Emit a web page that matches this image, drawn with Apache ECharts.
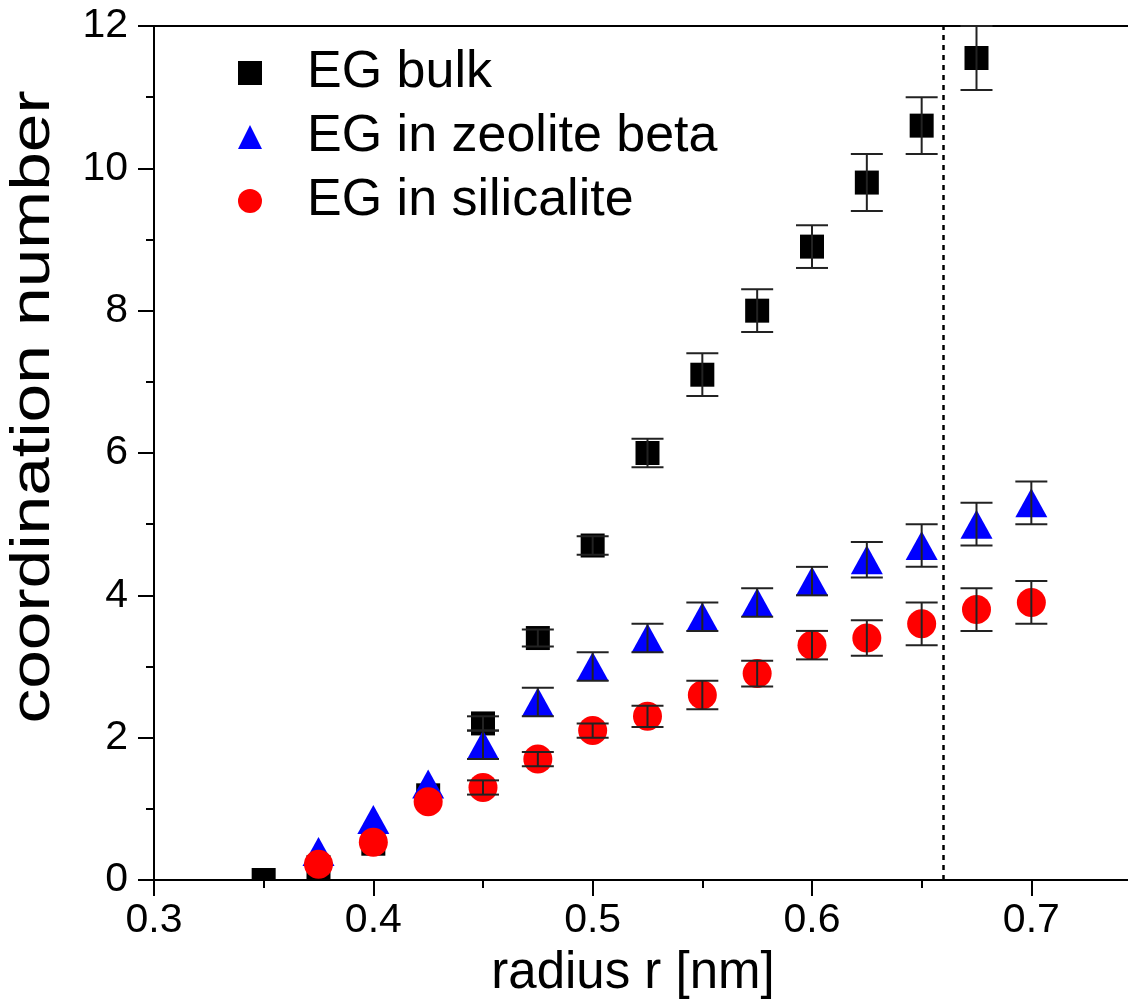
<!DOCTYPE html>
<html>
<head>
<meta charset="utf-8">
<title>Coordination number vs radius</title>
<script src="https://cdn.jsdelivr.net/npm/echarts@6/dist/echarts.min.js"></script>
<style>
  html, body { margin: 0; padding: 0; background: #ffffff; }
  #chart { width: 1128px; height: 1008px; }
</style>
</head>
<body>
<div id="chart"></div>
<script>
// radius r [nm] for each sample
const radiusBulk = [0.35, 0.375, 0.4, 0.425, 0.45, 0.475, 0.5, 0.525, 0.55, 0.575, 0.6, 0.625, 0.65, 0.675];
const radiusPore = [0.375, 0.4, 0.425, 0.45, 0.475, 0.5, 0.525, 0.55, 0.575, 0.6, 0.625, 0.65, 0.675, 0.7];

// coordination numbers and their error half-widths (0 = no bar drawn)
const bulkValues = [0.0, 0.18, 0.51, 1.19, 2.2, 3.4, 4.7, 6.0, 7.1, 8.0, 8.9, 9.8, 10.6, 11.55];
const bulkErrors = [0, 0, 0, 0, 0.1, 0.12, 0.13, 0.2, 0.3, 0.3, 0.3, 0.4, 0.4, 0.45];

const betaValues = [0.4, 0.85, 1.35, 1.9, 2.5, 3.0, 3.4, 3.7, 3.9, 4.2, 4.5, 4.7, 5.0, 5.3];
const betaErrors = [0, 0, 0, 0.2, 0.2, 0.2, 0.2, 0.2, 0.2, 0.2, 0.25, 0.3, 0.3, 0.3];

const silicaliteValues = [0.22, 0.53, 1.1, 1.3, 1.7, 2.1, 2.3, 2.6, 2.9, 3.3, 3.4, 3.6, 3.8, 3.9];
const silicaliteErrors = [0, 0, 0, 0.1, 0.1, 0.1, 0.15, 0.2, 0.18, 0.2, 0.25, 0.3, 0.3, 0.3];

const seriesNames = ['EG bulk', 'EG in zeolite beta', 'EG in silicalite'];
const xTicks = { min: 0.3, max: 0.75, interval: 0.1 };
const yTicks = { min: 0, max: 12, interval: 2 };
const cutoffRadius = 0.659;
const yTitle = 'coordination number';

const FONT = '"Liberation Sans", Arial, Helvetica, sans-serif';

function points(xs, ys) {
  return xs.map((x, i) => [x, ys[i]]);
}
function errorRanges(xs, ys, es) {
  return xs.map((x, i) => [x, ys[i] - es[i], ys[i] + es[i]]);
}

// vertical error bar with caps
function renderErrorBar(params, api) {
  const x = api.value(0);
  const lo = api.value(1), hi = api.value(2);
  if (hi <= lo) return null;
  const top = api.coord([x, hi]);
  const bot = api.coord([x, lo]);
  const half = 16;
  const style = { stroke: '#222', lineWidth: 2 };
  return {
    type: 'group',
    children: [
      { type: 'line', shape: { x1: top[0], y1: top[1], x2: bot[0], y2: bot[1] }, style },
      { type: 'line', shape: { x1: top[0] - half, y1: top[1], x2: top[0] + half, y2: top[1] }, style },
      { type: 'line', shape: { x1: bot[0] - half, y1: bot[1], x2: bot[0] + half, y2: bot[1] }, style }
    ]
  };
}

// filled square marker, clipped to the plot area by the series
function renderSquare(params, api) {
  const p = api.coord([api.value(0), api.value(1)]);
  const s = 24;
  return {
    type: 'rect',
    shape: { x: p[0] - s / 2, y: p[1] - s / 2, width: s, height: s },
    style: { fill: '#000000' }
  };
}

const chart = echarts.init(document.getElementById('chart'), null, { renderer: 'canvas' });

chart.setOption({
  animation: false,
  backgroundColor: '#ffffff',
  grid: {
    left: 154, top: 26, width: 987, bottom: 128,
    outerBoundsMode: 'none',
    containLabel: false,
    show: true, borderColor: '#000', borderWidth: 2, backgroundColor: 'transparent'
  },
  // y-axis title, set in a wide face along its length
  graphic: [{
    type: 'text',
    x: 34, y: 407,
    rotation: Math.PI / 2,
    scaleX: 1.24,
    silent: true,
    style: {
      text: yTitle,
      font: '56px ' + FONT,
      fill: '#000',
      align: 'center',
      verticalAlign: 'middle'
    }
  }],
  legend: {
    orient: 'vertical',
    left: 233, top: 38,
    itemWidth: 24, itemHeight: 24, itemGap: 4,
    selectedMode: false,
    textStyle: { fontFamily: FONT, fontSize: 52, color: '#000', lineHeight: 60, padding: [0, 0, 0, 40] },
    data: [
      { name: seriesNames[0], icon: 'rect', itemStyle: { color: '#000000' } },
      { name: seriesNames[1], icon: 'triangle', itemStyle: { color: '#0000ff' } },
      { name: seriesNames[2], icon: 'circle', itemStyle: { color: '#ff0000' } }
    ]
  },
  xAxis: {
    type: 'value',
    min: xTicks.min, max: xTicks.max, interval: xTicks.interval,
    name: 'radius r [nm]',
    nameLocation: 'middle',
    nameGap: 68,
    nameTextStyle: { fontFamily: FONT, fontSize: 51, color: '#000', padding: [0, 29, 0, 0] },
    axisLine: { show: true, onZero: false, lineStyle: { color: '#000', width: 2 } },
    axisTick: { show: true, inside: false, length: 16, lineStyle: { color: '#000', width: 2 } },
    minorTick: { show: true, splitNumber: 2, length: 8, lineStyle: { color: '#000', width: 2 } },
    axisLabel: {
      fontFamily: FONT, fontSize: 41, color: '#000', margin: 20,
      showMaxLabel: false,
      formatter: v => v.toFixed(1)
    },
    splitLine: { show: false }
  },
  yAxis: {
    type: 'value',
    min: yTicks.min, max: yTicks.max, interval: yTicks.interval,
    axisLine: { show: true, onZero: false, lineStyle: { color: '#000', width: 2 } },
    axisTick: { show: true, inside: false, length: 16, lineStyle: { color: '#000', width: 2 } },
    minorTick: { show: true, splitNumber: 2, length: 8, lineStyle: { color: '#000', width: 2 } },
    axisLabel: { fontFamily: FONT, fontSize: 41, color: '#000', margin: 26 },
    splitLine: { show: false }
  },
  series: [
    {
      name: seriesNames[0],
      type: 'custom',
      clip: true,
      renderItem: renderSquare,
      encode: { x: 0, y: 1 },
      data: points(radiusBulk, bulkValues),
      z: 2
    },
    {
      name: seriesNames[1],
      type: 'scatter',
      symbol: 'triangle',
      symbolSize: [32, 29],
      itemStyle: { color: '#0000ff', opacity: 1 },
      data: points(radiusPore, betaValues),
      z: 3
    },
    {
      name: seriesNames[2],
      type: 'scatter',
      symbol: 'circle',
      symbolSize: 29,
      itemStyle: { color: '#ff0000', opacity: 1 },
      data: points(radiusPore, silicaliteValues),
      z: 4,
      markLine: {
        silent: true,
        symbol: 'none',
        label: { show: false },
        lineStyle: { color: '#000', width: 2.5, type: [5, 5] },
        data: [{ xAxis: cutoffRadius }]
      }
    },
    {
      type: 'custom',
      renderItem: renderErrorBar,
      encode: { x: 0, y: [1, 2] },
      data: errorRanges(radiusBulk, bulkValues, bulkErrors),
      z: 6
    },
    {
      type: 'custom',
      renderItem: renderErrorBar,
      encode: { x: 0, y: [1, 2] },
      data: errorRanges(radiusPore, betaValues, betaErrors),
      z: 6
    },
    {
      type: 'custom',
      renderItem: renderErrorBar,
      encode: { x: 0, y: [1, 2] },
      data: errorRanges(radiusPore, silicaliteValues, silicaliteErrors),
      z: 6
    }
  ]
});
</script>
</body>
</html>
